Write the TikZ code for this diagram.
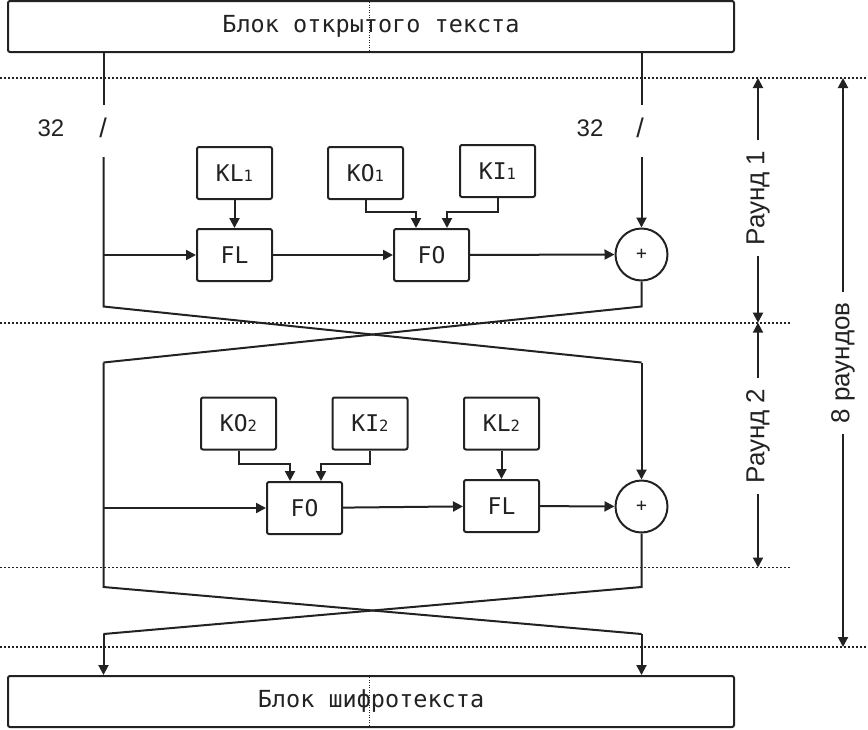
\documentclass[tikz,border=0pt]{standalone}
\usepackage{fontspec}
\setmainfont{Liberation Sans}
\newfontfamily\monof{DejaVu Sans Mono}
\usetikzlibrary{arrows.meta,calc}
\definecolor{lc}{HTML}{222222}
\newcommand\ksub[1]{{\fontsize{15.5}{15.5}\selectfont #1}}
\begin{document}
\begin{tikzpicture}[x=1pt,y=-1pt,
  ln/.style={line width=2pt, draw=lc},
  arr/.style={ln,-{Triangle[length=10pt,width=10pt]}},
  kbox/.style={draw=lc,line width=2pt,rounded corners=2pt,minimum width=75pt,minimum height=52pt,inner sep=0pt,font=\monof\fontsize{23}{27}\selectfont,text=lc},
  bigbox/.style={draw=lc,line width=2pt,rounded corners=2pt,minimum width=726pt,minimum height=51pt,inner sep=0pt,font=\monof\fontsize{23.5}{28}\selectfont,text=lc},
  xor/.style={draw=lc,line width=2pt,circle,minimum size=52pt,inner sep=0pt,font=\monof\fontsize{18}{20}\selectfont,text=lc},
  dots/.style={line width=1.6pt, dash pattern=on 1.8pt off 2.2pt, draw=lc},
  lab/.style={font=\fontsize{24}{28}\selectfont, inner sep=0pt,text=lc},
  rlab/.style={font=\fontsize{26}{30}\selectfont, rotate=90, inner xsep=10pt, inner ysep=0pt,text=lc}
]
\useasboundingbox (0,0) rectangle (868,729);
% dotted separators
\draw[dots] (0,78) -- (868,78);
\draw[dots] (0,322.7) -- (791,322.7);
\draw[dots] (0,567.5) -- (791,567.5);
\draw[dots] (0,647) -- (868,647);
% boxes
\node[bigbox] (ptb) at (371,26.5) {Блок открытого текста};
\node[bigbox] (ctb) at (371,701.5) {Блок шифротекста};
\draw[line width=0.9pt, dash pattern=on 1pt off 1.5pt, draw=lc] (369,2) -- (369,52);
\draw[line width=0.9pt, dash pattern=on 1pt off 1.5pt, draw=lc] (369,677) -- (369,727);
% input lines
\coordinate (la) at (103.5,105); \coordinate (lb) at (103.5,157);
\coordinate (ra) at (641.5,105); \coordinate (rb) at (641.5,157);
\draw[ln] (ptb.south -| la) -- (la);
\draw[ln] (ptb.south -| ra) -- (ra);
\node[lab] (n1) at (51,128) {32};
\node[lab,font=\fontsize{27}{30}\selectfont] (s1) at (103,128) {/};
\node[lab] (n2) at (590,128) {32};
\node[lab,font=\fontsize{27}{30}\selectfont] (s2) at (640,128) {/};
% round 1
\node[kbox] (kl1) at (234.5,173) {KL\ksub{1}};
\node[kbox] (ko1) at (365.5,173) {KO\ksub{1}};
\node[kbox] (ki1) at (497.5,171) {KI\ksub{1}};
\node[kbox] (fl1) at (234.5,255) {FL};
\node[kbox] (fo1) at (431.5,255) {FO};
\node[xor] (x1) at (641.5,254.5) {+};
\coordinate (c1a) at (103.5,306.5); \coordinate (c1b) at (641.5,306.5);
\coordinate (c1c) at (103.5,362.5); \coordinate (c1d) at (641.5,362.5);
\draw[ln] (lb) -- (c1a) -- (c1d);
\draw[arr] (lb |- fl1) -- (fl1);
\draw[arr] (fl1) -- (fo1);
\draw[arr] (fo1) -- (x1);
\draw[arr] (rb) -- (x1);
\draw[ln] (x1) -- (c1b) -- (c1c);
\draw[arr] (kl1) -- (fl1);
\draw[arr] (ko1.south) -- ++(0,12) -| ($(fo1.north)+(-15.5,0)$);
\draw[arr] (ki1.south) -- ++(0,14) -| ($(fo1.north)+(15.5,0)$);
% round 2
\node[kbox] (ko2) at (238.5,423.5) {KO\ksub{2}};
\node[kbox] (ki2) at (370,423.5) {KI\ksub{2}};
\node[kbox] (kl2) at (501.5,423.5) {KL\ksub{2}};
\node[kbox] (fo2) at (304.5,508) {FO};
\node[kbox] (fl2) at (501.5,506) {FL};
\node[xor] (x2) at (641.5,506.5) {+};
\coordinate (c2a) at (103.5,587); \coordinate (c2b) at (641.5,587);
\coordinate (c2c) at (103.5,634); \coordinate (c2d) at (641.5,634);
\draw[ln] (c1c) -- (c2a) -- (c2d);
\draw[arr] (c1c |- fo2) -- (fo2);
\draw[arr] (fo2) -- (fl2);
\draw[arr] (fl2) -- (x2);
\draw[arr] (c1d) -- (x2);
\draw[ln] (x2) -- (c2b) -- (c2c);
\draw[arr] (kl2) -- (fl2);
\draw[arr] (ko2.south) -- ++(0,13.5) -| ($(fo2.north)+(-14.5,0)$);
\draw[arr] (ki2.south) -- ++(0,13.5) -| ($(fo2.north)+(16.5,0)$);
\draw[arr] (c2c) -- (c2c |- ctb.north);
\draw[arr] (c2d) -- (c2d |- ctb.north);
% round markers
\node[rlab] (r1) at (758,198) {Раунд 1};
\coordinate (r1t) at (758,78); \coordinate (r1b) at (758,322.7);
\draw[arr] (r1.east) -- (r1t);
\draw[arr] (r1.west) -- (r1b);
\node[rlab] (r2) at (758,436) {Раунд 2};
\coordinate (r2t) at (758,322.7); \coordinate (r2b) at (758,567.5);
\draw[arr] (r2.east) -- (r2t);
\draw[arr] (r2.west) -- (r2b);
\node[rlab] (r8) at (843,363) {8 раундов};
\coordinate (r8t) at (843,78); \coordinate (r8b) at (843,647);
\draw[arr] (r8.east) -- (r8t);
\draw[arr] (r8.west) -- (r8b);
\end{tikzpicture}
\end{document}
